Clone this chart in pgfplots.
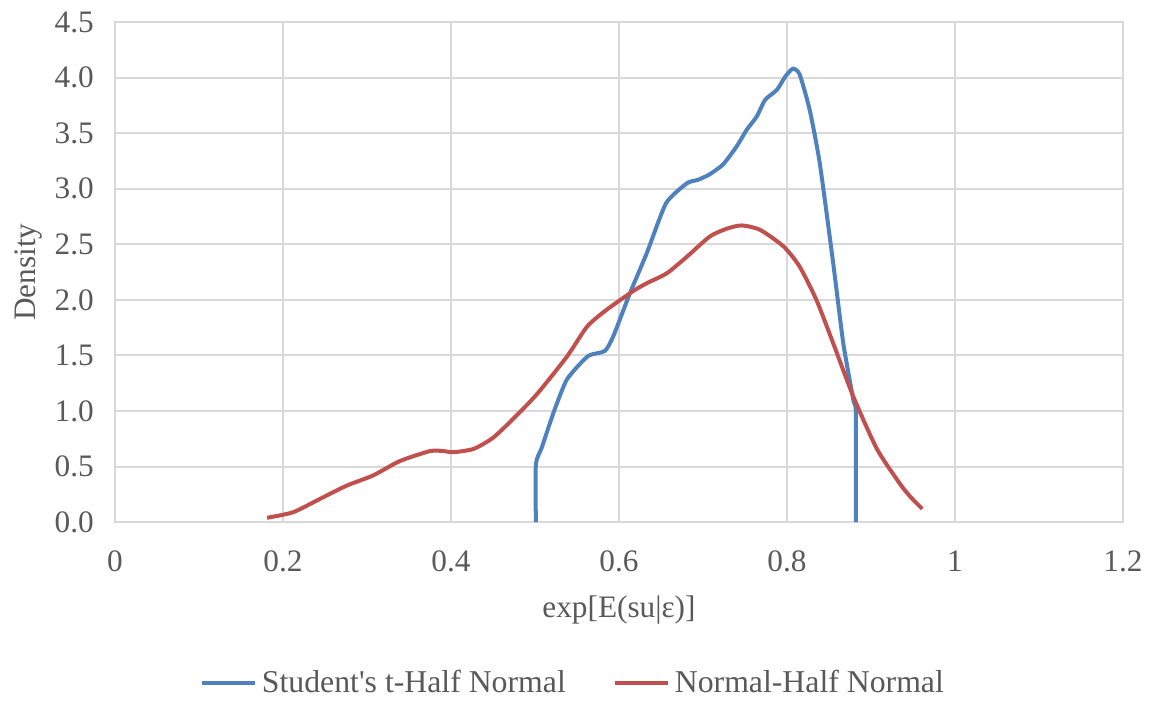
\documentclass[border=0pt]{standalone}
\usepackage{fontspec}
\setmainfont{Liberation Serif}
\usepackage{pgfplots}
\pgfplotsset{compat=1.18}

\definecolor{txt}{HTML}{595959}
\definecolor{gridc}{HTML}{D9D9D9}
\definecolor{sblue}{HTML}{4F81BD}
\definecolor{sred}{HTML}{C0504D}

\begin{document}
\begin{tikzpicture}
\begin{axis}[
    scale only axis,
    width=403pt, height=200pt,
    xmin=0, xmax=1.2, ymin=0, ymax=4.5,
    xtick={0,0.2,0.4,0.6,0.8,1,1.2},
    xticklabels={0,0.2,0.4,0.6,0.8,1,1.2},
    ytick={0,0.5,...,4.5},
    yticklabel style={/pgf/number format/fixed, /pgf/number format/fixed zerofill, /pgf/number format/precision=1},
    /pgf/number format/assume math mode=true,
    tick style={draw=none},
    grid=major,
    major grid style={draw=gridc, line width=0.8pt},
    axis line style={draw=gridc, line width=0.8pt},
    ticklabel style={font=\fontsize{12.5}{15}\selectfont, text=txt},
    xticklabel style={yshift=-8pt},
    yticklabel style={xshift=-5pt},
    xlabel={exp[E(su|ε)]},
    ylabel={Density},
    label style={font=\fontsize{12.5}{15}\selectfont, text=txt},
    xlabel style={yshift=-2.5pt},
    ylabel style={yshift=-2pt},
    legend columns=2,
    legend style={draw=none, at={(0.456,-0.322)}, anchor=center,
        font=\fontsize{12.7}{15}\selectfont, text=txt,
        /tikz/every even column/.append style={column sep=17pt}},
    legend image code/.code={\draw[#1] (0pt,0pt) -- (21pt,0pt);},
]
\addplot[sblue, line width=1.6pt, smooth, tension=0.35] table {
0.501 0
0.501 0.52
0.508 0.67
0.522 0.985
0.538 1.285
0.563 1.494
0.583 1.54
0.593 1.67
0.613 2.06
0.633 2.42
0.656 2.87
0.681 3.05
0.694 3.08
0.708 3.13
0.724 3.22
0.740 3.38
0.752 3.53
0.764 3.65
0.774 3.80
0.788 3.89
0.798 4.01
0.807 4.08
0.815 4.03
0.827 3.71
0.839 3.23
0.855 2.33
0.867 1.61
0.879 1.10
0.882 0.98
0.882 0
};
\addlegendentry{Student\textquotesingle s t-Half Normal}
\addplot[sred, line width=1.6pt, smooth, tension=0.4] table {
0.181 0.04
0.212 0.09
0.244 0.21
0.276 0.33
0.307 0.42
0.339 0.55
0.375 0.64
0.391 0.64
0.403 0.63
0.427 0.66
0.450 0.76
0.474 0.93
0.502 1.15
0.538 1.49
0.562 1.76
0.585 1.91
0.617 2.08
0.633 2.15
0.657 2.24
0.681 2.39
0.708 2.57
0.728 2.64
0.746 2.67
0.768 2.63
0.796 2.48
0.815 2.30
0.835 2.00
0.855 1.61
0.879 1.13
0.907 0.66
0.935 0.34
0.948 0.22
0.961 0.12
};
\addlegendentry{Normal-Half Normal}
\end{axis}
\path[use as bounding box] ([xshift=-46pt,yshift=-69.6pt]current axis.south west) rectangle ([xshift=12pt,yshift=8.8pt]current axis.north east);
\end{tikzpicture}
\end{document}
